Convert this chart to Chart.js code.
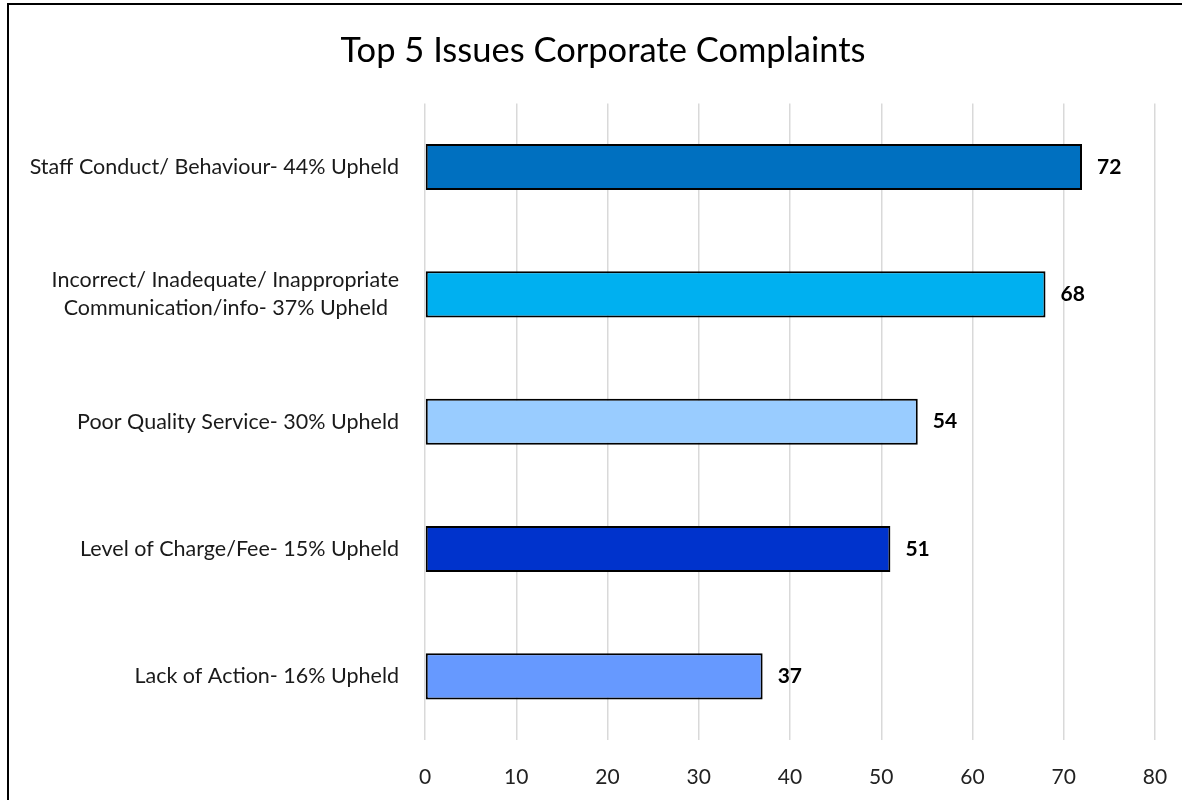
<!DOCTYPE html>
<html>
<head>
<meta charset="utf-8">
<script src="https://cdn.jsdelivr.net/npm/chart.js@4/dist/chart.umd.min.js"></script>
<style>
  html, body { margin: 0; padding: 0; background: #fff; overflow: hidden; }
  #frame {
    position: absolute; left: 7px; top: 3px;
    border: 2px solid #000;
    width: 1188px; height: 800px;
  }
  #chartBox { position: relative; width: 1188px; height: 795px; }
</style>
</head>
<body>
<div id="frame"><div id="chartBox"><canvas id="complaints"></canvas></div></div>
<script>
const categories = [
  "Staff Conduct/ Behaviour- 44% Upheld",
  ["Incorrect/ Inadequate/ Inappropriate", "Communication/info- 37% Upheld"],
  "Poor Quality Service- 30% Upheld",
  "Level of Charge/Fee- 15% Upheld",
  "Lack of Action- 16% Upheld"
];
const complaintCounts = [72, 68, 54, 51, 37];
const barColors = ["#0070C0", "#00B0F0", "#99CCFF", "#0033CC", "#6699FF"];
const xTicks = { min: 0, max: 80, step: 10 };

const FONT = "Lato, 'Open Sans', sans-serif";
const LABEL_SIZE = 21.5;

/* bold value next to each bar end */
const valueLabels = {
  id: 'valueLabels',
  afterDatasetsDraw(chart) {
    const {ctx} = chart;
    const meta = chart.getDatasetMeta(0);
    ctx.save();
    ctx.font = "bold 21px " + FONT;
    ctx.fillStyle = "#000";
    ctx.textAlign = "left";
    ctx.textBaseline = "middle";
    meta.data.forEach((bar, i) => {
      ctx.fillText(String(complaintCounts[i]), bar.x + 15, bar.y);
    });
    ctx.restore();
  }
};

new Chart(document.getElementById("complaints"), {
  type: "bar",
  data: {
    labels: categories,
    datasets: [{
      data: complaintCounts,
      backgroundColor: barColors,
      borderColor: "#000",
      borderWidth: 2,
      borderSkipped: false,
      barPercentage: 0.362,
      categoryPercentage: 1
    }]
  },
  options: {
    indexAxis: "y",
    responsive: true,
    maintainAspectRatio: false,
    animation: false,
    layout: { padding: 0 },
    plugins: {
      legend: { display: false },
      tooltip: { enabled: false },
      title: {
        display: true,
        text: "Top 5 Issues Corporate Complaints",
        color: "#000",
        font: { family: FONT, size: 34.5, weight: "normal" },
        padding: { top: 25, bottom: 32 }
      }
    },
    scales: {
      x: {
        min: xTicks.min,
        max: xTicks.max,
        ticks: {
          stepSize: xTicks.step,
          color: "#222",
          font: { family: FONT, size: 21 },
          padding: 25
        },
        grid: { color: "#d9d9d9", lineWidth: 1.5, drawTicks: false },
        border: { display: false },
        afterFit(scale) { scale.height = 60; }
      },
      y: {
        ticks: {
          color: "#1a1a1a",
          font: { family: FONT, size: LABEL_SIZE, lineHeight: 1.3 },
          padding: 18,
          callback(value) {
            const lbl = this.getLabelForValue(value);
            if (!Array.isArray(lbl)) return lbl;
            const ctx = this.chart.ctx;
            ctx.save();
            ctx.font = LABEL_SIZE + "px " + FONT;
            const w = lbl.map(s => ctx.measureText(s).width);
            const sp = ctx.measureText("\u00A0").width;
            ctx.restore();
            const max = Math.max(...w);
            return lbl.map((s, i) => s + "\u00A0".repeat(Math.round((max - w[i]) / 2 / sp)));
          }
        },
        grid: { display: false },
        border: { display: false },
        afterFit(scale) { scale.width = 416; }
      },
      // empty right-hand axis, only keeps the gap right of the plot
      yRight: {
        type: "linear",
        position: "right",
        ticks: { display: false },
        grid: { display: false },
        border: { display: false },
        afterFit(scale) { scale.width = 42; }
      }
    }
  },
  plugins: [valueLabels]
});
</script>
</body>
</html>
